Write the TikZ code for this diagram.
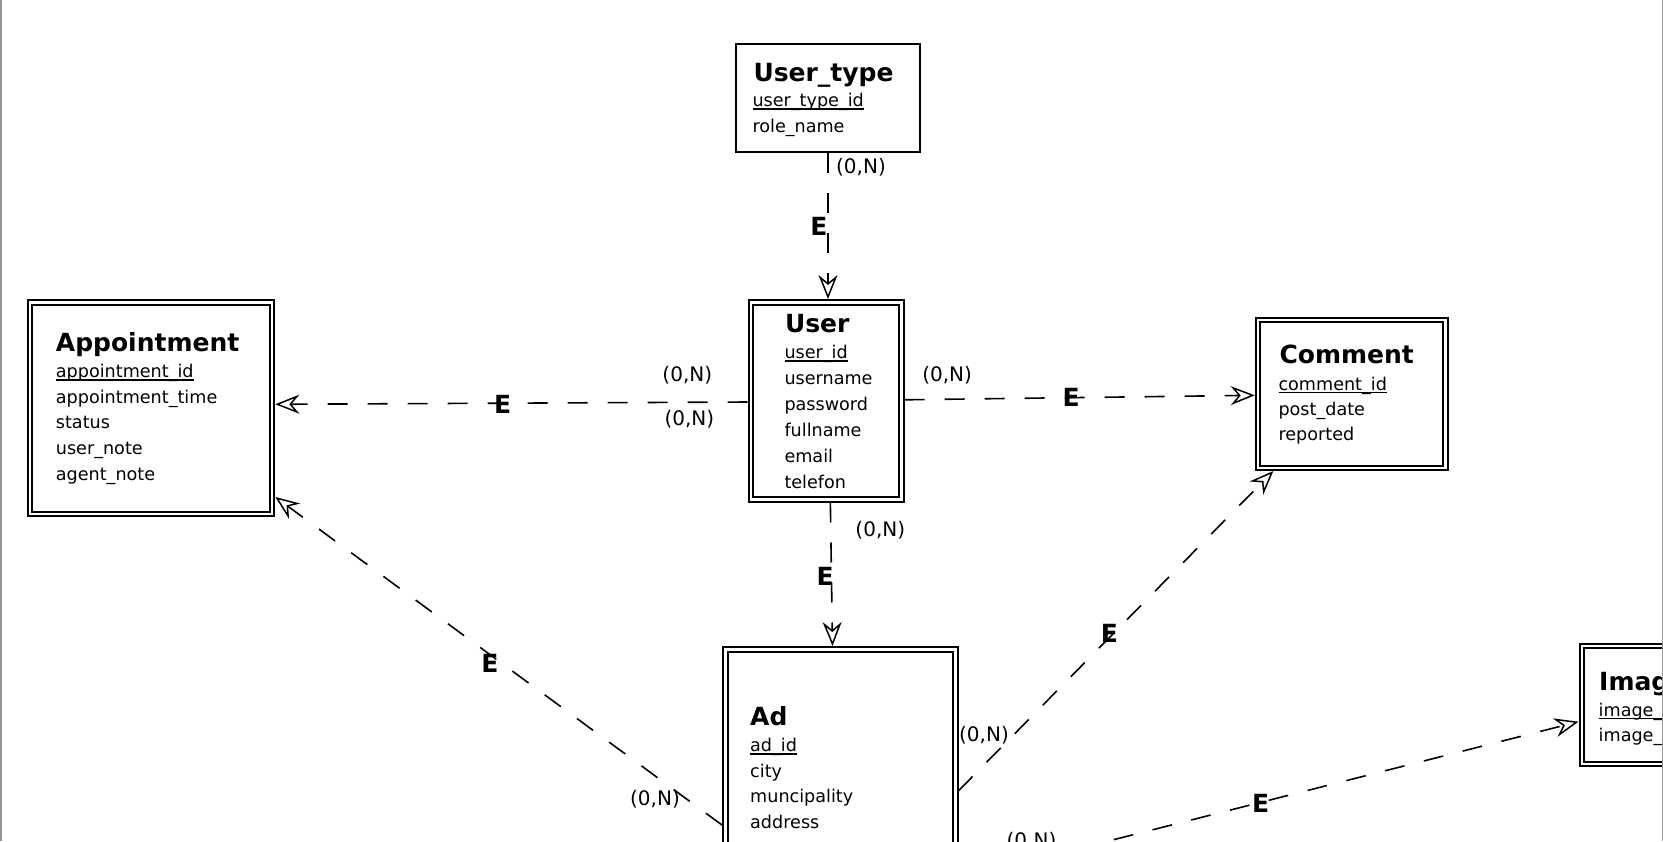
\documentclass[tikz,border=0pt]{standalone}
\usepackage{fontspec}
\setmainfont{DejaVu Sans}
\usetikzlibrary{arrows.meta,calc}
\definecolor{edgegray}{HTML}{8C949C}
% key attribute: text with a rule just under the baseline
\newcommand\keyul[1]{\setbox0=\hbox{#1}\rlap{\rule[-3pt]{\wd0}{1.3pt}}\box0}
% one attribute per line: name, x, first baseline, line step, list
\newcommand\attrlist[5]{%
  \foreach \attrtext [count=\i from 0] in {#5}
    {\node[attr, name=#1-\i] at (#2, #3+\i*#4) {\attrtext};}}
\begin{document}
\begin{tikzpicture}[x=1pt,y=-1pt,
  entity/.style={draw, line width=2pt, inner sep=0pt, anchor=north west},
  innerframe/.style={draw, line width=2pt},
  ttl/.style={inner sep=0pt, anchor=base west, font=\fontsize{25}{30}\selectfont\bfseries},
  attr/.style={inner sep=0pt, anchor=base west, font=\fontsize{17.6}{25}\selectfont},
  card/.style={inner sep=0pt, anchor=base, font=\fontsize{20}{24}\selectfont},
  elbl/.style={inner sep=0pt, font=\fontsize{25}{30}\selectfont\bfseries},
  rel/.style={line width=1.6pt, dash pattern=on 20pt off 20pt,
    -{Stealth[open,length=24pt,width=19pt,inset=8pt,line width=1.5pt]}},
  sideline/.style={draw=edgegray, line width=1.5pt}]
\useasboundingbox (0,0) rectangle (1663,841);
\clip (0,0) rectangle (1663,841);
\fill[white] (0,0) rectangle (1663,841);

% entity boxes
\node[entity, minimum width=184.6pt, minimum height=108pt] (usertype) at (734.7,42.7) {};
\node[entity, minimum width=154.9pt, minimum height=201.5pt] (user) at (747.7,299) {};
\node[entity, minimum width=246.6pt, minimum height=215.7pt] (appt) at (26.7,299.3) {};
\node[entity, minimum width=192pt, minimum height=152.3pt] (comment) at (1254.7,316.7) {};
\node[entity, minimum width=234.6pt, minimum height=360pt] (ad) at (722,646) {};
\node[entity, minimum width=220pt, minimum height=122.3pt] (image) at (1578.5,642.7) {};
\foreach \n in {user,appt,comment,ad,image}
  \draw[innerframe] ($(\n.north west)+(5.5,5.5)$) rectangle ($(\n.south east)+(-5.5,-5.5)$);

% titles and attributes
\node[ttl] (usertype-t) at (753.3,81.7) {User\_type};
\attrlist{usertype}{752.3}{106.7}{26}{\keyul{user\_type\_id}, role\_name}

\node[ttl] (user-t) at (784.8,332.6) {User};
\attrlist{user}{784.3}{358.5}{26}{\keyul{user\_id}, username, password, fullname, email, telefon}

\node[ttl] (appt-t) at (55.7,351.7) {Appointment};
\attrlist{appt}{55.7}{377.7}{25.6}{\keyul{appointment\_id}, appointment\_time, status, user\_note, agent\_note}

\node[ttl] (comment-t) at (1279.3,363.3) {Comment};
\attrlist{comment}{1278.3}{390}{25.35}{\keyul{comment\_id}, post\_date, reported}

\node[ttl] (ad-t) at (750,725) {Ad};
\attrlist{ad}{750}{751.7}{25.6}{\keyul{ad\_id}, city, muncipality, address}

\node[ttl] (image-t) at (1599,690) {Image};
\attrlist{image}{1598.5}{716}{25.5}{\keyul{image\_id}, image\_url}

% relationships
\draw[rel] (usertype.south) -- (usertype.south |- user.north);
\draw[rel] ([yshift=-1.25pt]user.west) -- ([yshift=3.85pt]appt.east);
\draw[rel] ([yshift=0.95pt]user.east) -- ([yshift=-1.45pt]comment.west);
\draw[rel] ([xshift=4.2pt]user.south) -- ([xshift=-7.8pt]ad.north);
\draw[rel] ([yshift=-179pt]ad.north west) -- ([yshift=20pt]appt.south east);
\draw[rel] ([yshift=-144.7pt]ad.north east) -- ([xshift=18.6pt]comment.south west);
\draw[rel] ([yshift=-233pt]ad.north east) -- ([yshift=-79pt]image.north west);

% cardinalities
\node[card] (c1) at (861,173.5) {(0,N)};
\node[card] (c2) at (687.3,381.5) {(0,N)};
\node[card] (c3) at (689.4,425) {(0,N)};
\node[card] (c4) at (947.1,381.5) {(0,N)};
\node[card] (c5) at (880.3,536.5) {(0,N)};
\node[card] (c6) at (655,805) {(0,N)};
\node[card] (c7) at (984,741) {(0,N)};
\node[card] (c8) at (1031.5,847) {(0,N)};

% relationship type marks
\node[elbl] (e1) at (818.8,226) {E};
\node[elbl] (e2) at (502.7,404) {E};
\node[elbl] (e3) at (1071.2,397.7) {E};
\node[elbl] (e4) at (825.2,576) {E};
\node[elbl] (e5) at (490,663) {E};
\node[elbl] (e6) at (1109.4,633.2) {E};
\node[elbl] (e7) at (1260.7,803) {E};

% window edges
\draw[sideline] (0.75,0) -- (0.75,841);
\draw[sideline] (1662.25,0) -- (1662.25,841);
\end{tikzpicture}
\end{document}
